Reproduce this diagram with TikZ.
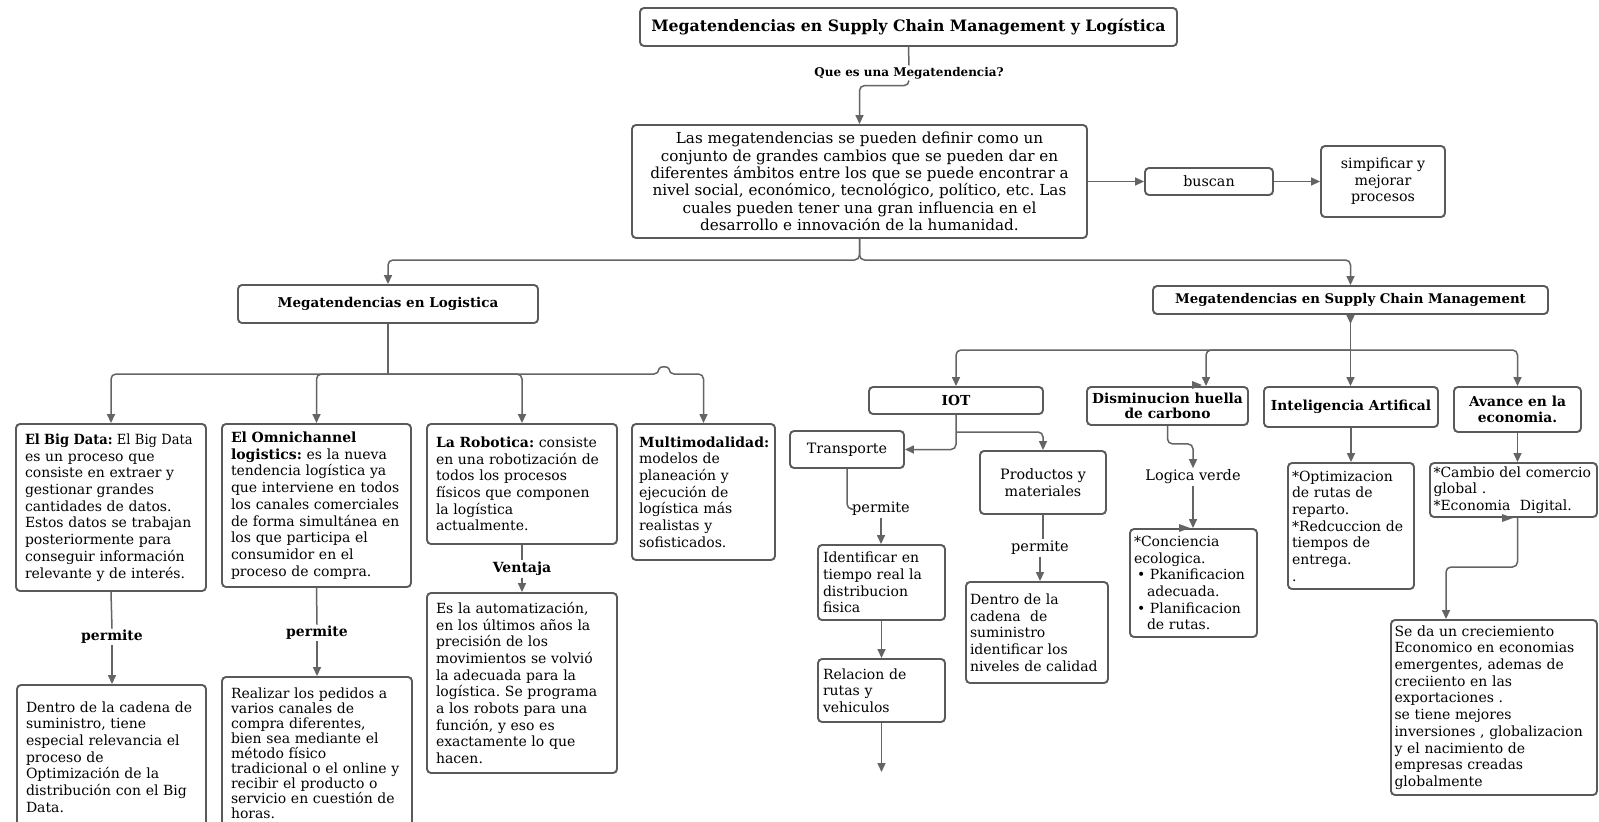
\documentclass[tikz,border=0pt]{standalone}
\usepackage{fontspec}
\usepackage{graphicx}
\setmainfont{DejaVu Serif}
\usetikzlibrary{arrows.meta,calc}
\definecolor{edge}{HTML}{5A5A5A}
\definecolor{wire}{HTML}{646464}
\newcommand{\bodyfont}{\fontsize{14}{16.7}\selectfont\frenchspacing}
\newcommand{\mainfont}{\fontsize{15.2}{17.3}\selectfont\frenchspacing}
\newcommand{\headfont}{\fontsize{13.8}{15.5}\selectfont\bfseries}
\newcommand{\capfont}{\fontsize{14.3}{16.5}\selectfont}

\begin{document}
\begin{tikzpicture}[x=1pt,y=-1pt,
  frame/.style={draw=edge, line width=1.9pt, rounded corners=4pt, fill=white},
  txtbox/.style={frame, inner ysep=0pt, inner xsep=#1, align=left, font=\bodyfont},
  txtbox/.default=9pt,
  capbox/.style={frame, inner sep=0pt, align=center},
  lbl/.style={inner sep=1.5pt, fill=white, font=\fontsize{14}{15}\selectfont\bfseries},
  plainlbl/.style={inner sep=1.5pt, fill=white, font=\fontsize{14.5}{15}\selectfont},
  wireln/.style={draw=wire, line width=1.5pt, rounded corners=5pt},
  arrow/.style={wireln, -{Triangle[length=9pt,width=8pt]}},
  stray/.style={fill=wire, draw=none}]

\fill[white] (0,0) rectangle (1599,822);
\useasboundingbox (0,0) rectangle (1599,822);

% ---------- top part ----------
\node[capbox, minimum width=537, minimum height=38, font=\fontsize{15.7}{18}\selectfont\bfseries]
  (title) at (908.5,27) {Megatendencias en Supply Chain Management y Logística};
\node[lbl, font=\fontsize{12}{14}\selectfont\bfseries] (que) at (909,73) {Que es una Megatendencia?};
\node[capbox, minimum width=455, minimum height=113, font=\mainfont] (main) at (859.5,181.5)
  {Las megatendencias se pueden definir como un\\
   conjunto de grandes cambios que se pueden dar en\\
   diferentes ámbitos entre los que se puede encontrar a\\
   nivel social, económico, tecnológico, político, etc. Las\\
   cuales pueden tener una gran influencia en el\\
   desarrollo e innovación de la humanidad.};
\node[capbox, minimum width=128, minimum height=27, font=\capfont] (buscan) at (1209,181.5) {buscan};
\node[capbox, minimum width=124, minimum height=71, font=\fontsize{14.2}{16.5}\selectfont] (simp) at (1383,181.5)
  {simpificar y\\ mejorar\\ procesos};

\node[capbox, minimum width=300, minimum height=38, font=\fontsize{13.5}{15}\selectfont\bfseries]
  (logi) at (388,304) {Megatendencias en Logistica};
\node[capbox, minimum width=395, minimum height=28, font=\fontsize{13.3}{15}\selectfont\bfseries]
  (scm) at (1350.5,300) {Megatendencias en Supply Chain Management};

% ---------- logistics branch ----------
\node[txtbox, minimum height=167, text width=172pt] (bigdata) at (111,507.5)
  {\scalebox{0.93}[1]{\textbf{El Big Data:} El Big Data}\\ es un proceso que\\ consiste en extraer y\\ gestionar grandes\\
   cantidades de datos.\\ Estos datos se trabajan\\ posteriormente para\\ conseguir información\\
   relevante y de interés.};
\node[txtbox, minimum height=163, text width=171pt] (omni) at (316.5,505.5)
  {\textbf{El Omnichannel}\\ \textbf{logistics:} es la nueva\\ tendencia logística ya\\ que interviene en todos\\
   los canales comerciales\\ de forma simultánea en\\ los que participa el\\ consumidor en el\\ proceso de compra.};
\node[txtbox, minimum height=120, text width=172pt] (robot) at (522,484)
  {\textbf{La Robotica:} consiste\\ en una robotización de\\ todos los procesos\\ físicos que componen\\
   la logística\\ actualmente.};
\node[txtbox=7pt, minimum height=136, text width=129pt] (multi) at (703.5,492)
  {\textbf{Multimodalidad:}\\ modelos de\\ planeación y\\ ejecución de\\ logística más\\ realistas y\\ sofisticados.};

\node[lbl] (perm1) at (112,637) {permite};
\node[lbl] (perm2) at (317,633) {permite};
\node[lbl] (vent) at (522,569) {Ventaja};

\node[txtbox, minimum height=144, text width=171pt] (bigdata2) at (111.5,757)
  {Dentro de la cadena de\\ suministro, tiene\\ especial relevancia el\\ proceso de\\ Optimización de la\\
   distribución con el Big\\ Data.};
\node[txtbox, minimum height=152, text width=172pt, font=\fontsize{14}{15}\selectfont] (omni2) at (317,753)
  {Realizar los pedidos a\\ varios canales de\\ compra diferentes,\\ bien sea mediante el\\ método físico\\
   tradicional o el online y\\ recibir el producto o\\ servicio en cuestión de\\ horas.};
\node[txtbox, minimum height=180, text width=172pt] (robot2) at (522,683)
  {Es la automatización,\\ en los últimos años la\\ precisión de los\\ movimientos se volvió\\
   la adecuada para la\\ logística. Se programa\\ a los robots para una\\ función, y eso es\\
   exactamente lo que\\ hacen.};

% ---------- supply chain branch ----------
\node[capbox, minimum width=174, minimum height=27, font=\headfont] (iot) at (956,400.5) {IOT};
\node[capbox, minimum width=114, minimum height=37, font=\capfont] (transp) at (847,449.5) {Transporte};
\node[capbox, minimum width=126, minimum height=63, font=\fontsize{14.3}{17}\selectfont] (prod) at (1043,482.5) {Productos y\\ materiales};
\node[plainlbl] (perm3) at (881,509) {permite};
\node[plainlbl] (perm4) at (1040,548) {permite};
\node[txtbox=5pt, minimum height=75, text width=117pt] (ident) at (881.5,582.5)
  {Identificar en\\ tiempo real la\\ distribucion\\ fisica};
\node[txtbox=5pt, minimum height=63, text width=117pt] (relac) at (881.5,690.5)
  {Relacion de\\ rutas y\\ vehiculos};
\node[txtbox=4pt, minimum height=101, text width=134pt] (cadena) at (1037,632.5)
  {Dentro de la\\ cadena\ \ de\\ suministro\\ identificar los\\ niveles de calidad};

\node[capbox, minimum width=161, minimum height=38, font=\headfont] (dism) at (1167.5,406) {Disminucion huella\\ de carbono};
\node[plainlbl] (logv) at (1193,477) {Logica verde};
\node[txtbox=4pt, minimum height=108, text width=119pt] (conc) at (1193.5,583)
  {{*}Conciencia\\ ecologica.\\ \hspace*{3pt}\textbullet\ Pkanificacion\\ \hspace*{13pt}adecuada.\\
   \hspace*{3pt}\textbullet\ Planificacion\\ \hspace*{13pt}de rutas.};

\node[capbox, minimum width=174, minimum height=40, font=\headfont] (ia) at (1351,407) {Inteligencia Artifical};
\node[txtbox=4pt, minimum height=126, text width=118pt] (iabox) at (1351,526)
  {{*}Optimizacion\\ de rutas de\\ reparto.\\ {*}Redcuccion de\\ tiempos de\\ entrega.\\ .};

\node[capbox, minimum width=127, minimum height=45, font=\headfont] (avance) at (1517.5,409.5) {Avance en la\\ economia.};
\node[txtbox=3.5pt, minimum height=54, text width=160pt] (cambio) at (1513.5,490)
  {{*}Cambio~del~comercio\\ global .\\ {*}Economia\ \ Digital.};
\node[txtbox=3.5pt, minimum height=175, text width=199pt] (seda) at (1494,707.5)
  {Se da un creciemiento\\ Economico en economias\\ emergentes, ademas de\\ creciiento en las\\
   exportaciones .\\ se tiene mejores\\ inversiones~,~globalizacion\\ y el nacimiento de\\
   empresas creadas\\ globalmente};

% ---------- connectors ----------
\draw[wireln] (title.south) -- (que.north);
\draw[arrow] (que.south) -- ++(0,5) -| (main.north);
\draw[arrow] (main.east) -- (buscan.west);
\draw[arrow] (buscan.east) -- (simp.west);

\coordinate (mb) at (859.5,260);
\draw[arrow] (main.south) -- (mb) -| (logi.north);
\draw[arrow] (main.south) -- (mb) -| (scm.north);

\coordinate (lb) at (388,374);
\draw[wireln] (logi.south) -- (lb);
\draw[arrow] (lb) -| (bigdata.north);
\draw[arrow] (lb) -| (omni.north);
\draw[arrow] (lb) -| (robot.north);
\draw[arrow] (lb) -- (659,374) .. controls (659,366) and (669,366) .. (669,374) -| (multi.north);

\draw[wireln] (bigdata.south) -- (perm1.north);
\draw[arrow] (perm1.south) -- (perm1.south |- bigdata2.north);
\draw[wireln] (omni.south) -- (perm2.north);
\draw[arrow] (perm2.south) -- (perm2.south |- omni2.north);
\draw[wireln] (robot.south) -- (vent.north);
\draw[arrow] (vent.south) -- (robot2.north);

\coordinate (sb) at (1350.5,350);
\coordinate (dx) at (1206,350);
\draw[wireln] (scm.south) -- (sb);
\draw[arrow] (scm.south) -- ++(0,9);
\draw[arrow] (sb) -| (iot.north);
\draw[arrow] (sb) -| (dx |- dism.north);
\draw[arrow] (sb) -- (sb |- ia.north);
\draw[arrow] (sb) -| (avance.north);

\coordinate (ib) at (956,432);
\draw[arrow] (iot.south) |- (transp.east);
\draw[arrow] (ib) -| (prod.north);
\draw[wireln] (transp.south) |- (perm3.west);
\draw[arrow] (perm3.south) -- (perm3.south |- ident.north);
\draw[arrow] (ident.south) -- (relac.north);
\coordinate (rend) at (881.5,772);
\draw[arrow] (relac.south) -- (rend);
\draw[wireln] (prod.south) -- (prod.south |- perm4.north);
\draw[arrow] (perm4.south) -- (perm4.south |- cadena.north);

\draw[arrow] (dism.south) -- ++(0,18) -| (logv.north);
\draw[arrow] (logv.south) -- (logv.south |- conc.north);
\draw[arrow] (ia.south) -- (iabox.north);
\draw[arrow] (avance.south) -- (avance.south |- cambio.north);
\coordinate (cx) at (1446,567);
\draw[arrow] (cambio.south -| avance.south) |- (cx) -- (cx |- seda.north);

% small loose arrowheads sitting on box edges
\fill[stray] (1192,381) -- (1202,385) -- (1192,389) -- cycle;
\fill[stray] (1179,524) -- (1190,528) -- (1179,532) -- cycle;
\fill[stray] (1502,514) -- (1513,518) -- (1502,522) -- cycle;
\end{tikzpicture}
\end{document}
